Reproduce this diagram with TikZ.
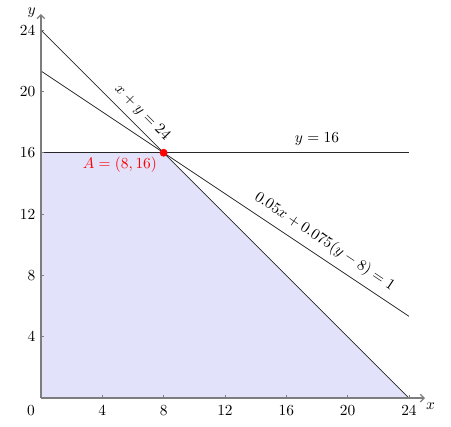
\documentclass[tikz,border=0pt]{standalone}
\usepackage{amsmath,amssymb}
\usepackage{tikz}
\usetikzlibrary{arrows.meta, positioning, calc}
\definecolor{feasblue}{RGB}{226, 226, 250}
\definecolor{axisgray}{RGB}{125, 125, 125}
\definecolor{optred}{RGB}{255, 0, 0}
\definecolor{linedark}{RGB}{40, 40, 40}
\tikzset{
  axx/.style       = {-{Straight Barb[length=2.5pt, width=5pt]}, axisgray, line width=0.8pt},
  tickmark/.style  = {axisgray, line width=0.5pt},
  ticklbl/.style   = {font=\normalsize, inner sep=1pt},
  constr/.style    = {linedark, line width=0.5pt},
  feasible/.style  = {fill=feasblue},
  eqlbl/.style     = {font=\normalsize, inner sep=0pt},
  optpt/.style     = {circle, fill=optred, inner sep=0pt, minimum size=1.8mm},
}

\begin{document}
\begin{tikzpicture}[x=0.35cm, y=0.35cm]
  % same margins as the reference
  \useasboundingbox (-2.67,-1.83) rectangle (26.74,25.96);

  \coordinate (O)   at (0,0);
  \coordinate (A)   at (8,16);
  \coordinate (xe)  at (24,0);
  \coordinate (ye)  at (0,24);
  \coordinate (hs)  at (0,16);
  \coordinate (he)  at (24,16);
  \coordinate (bs)  at (0,21.333);
  \coordinate (be)  at (24,5.333);
  \coordinate (xtip) at (25.05,0);
  \coordinate (ytip) at (0,25.05);

  \fill[feasible] (O) -- (xe) -- (A) -- (hs) -- cycle;

  \draw[constr] (ye) -- (xe);
  \draw[constr] (bs) -- (be);
  \draw[constr] (hs) -- (he);

  \foreach \t in {4,8,...,24} {
    \draw[tickmark] (\t,0) -- (\t,0.18);
    \draw[tickmark] (0,\t) -- (0.18,\t);
    \node[ticklbl] (xt\t) at (\t,-0.8) {$\t$};
    \node[ticklbl, left] (yt\t) at (-0.25,\t) {$\t$};
  }
  \node[ticklbl] (xt0) at (-0.65,-0.8) {$0$};

  \draw[axx] (O) -- (xtip);
  \draw[axx] (O) -- (ytip);
  \node[ticklbl] (xl) at (25.4,-0.55) {$x$};
  \node[ticklbl] (yl) at (-0.6,25.15) {$y$};

  \node[eqlbl, rotate=-45] (l1) at (6.6,18.6) {$x+y=24$};
  \node[eqlbl] (l2) at (18.0,16.9) {$y=16$};
  \node[eqlbl, rotate=-33.69] (l3) at (18.5,10.2) {$0.05x+0.075(y-8)=1$};

  \node[optpt] (Apt) at (A) {};
  \node[optred, font=\normalsize] (Al) at (5.15,15.2) {$A=(8,16)$};
\end{tikzpicture}
\end{document}
